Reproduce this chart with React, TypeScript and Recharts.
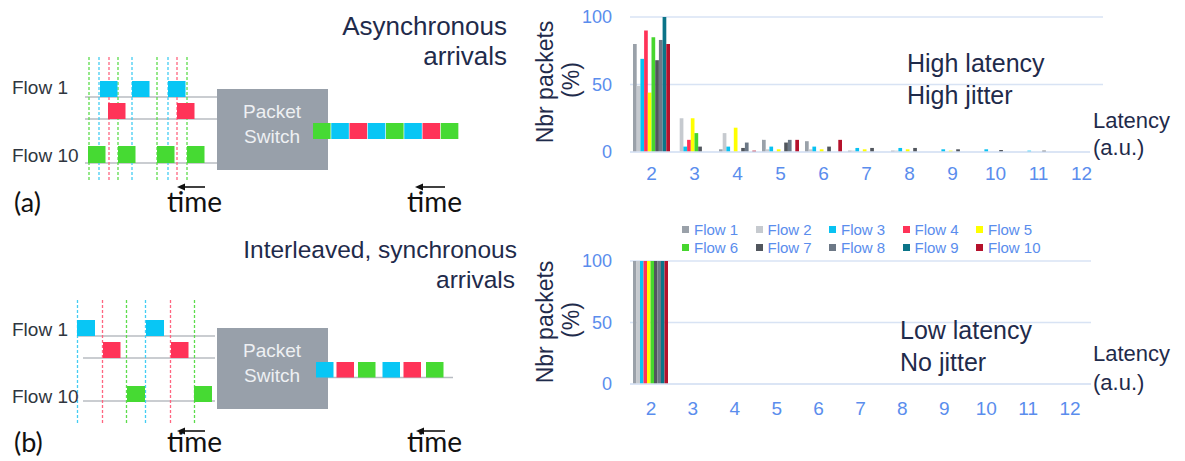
import React from 'react';
import { BarChart, Bar, XAxis, YAxis, CartesianGrid, Legend } from 'recharts';

// latency bins (a.u.) on the x axis
const LATENCY = ['2', '3', '4', '5', '6', '7', '8', '9', '10', '11', '12'];
const Y_TICKS = [0, 50, 100];

const FLOWS = ['Flow 1', 'Flow 2', 'Flow 3', 'Flow 4', 'Flow 5', 'Flow 6', 'Flow 7', 'Flow 8', 'Flow 9', 'Flow 10'];
const COLORS = ['#9aa1a9', '#c6cacf', '#08c2f2', '#ff3358', '#ffff00', '#46d62e', '#51565d', '#6c7886', '#0b7488', '#b5112b'];

// (a) asynchronous arrivals, % of packets per latency bin
const ASYNC_F1 = [80, 0, 2, 9, 8, 1, 1, 0, 0, 0, 0];
const ASYNC_F2 = [49, 25, 14, 2, 2, 1, 1, 0, 0, 0, 0];
const ASYNC_F3 = [69, 4, 4, 4, 4, 3, 3, 2, 2, 1, 0];
const ASYNC_F4 = [90, 9, 0, 0, 0, 0, 0, 0, 0, 0, 0];
const ASYNC_F5 = [44, 25, 18, 2, 2, 2, 2, 1, 0, 0, 0];
const ASYNC_F6 = [85, 14, 0, 0, 0, 0, 0, 0, 0, 0, 0];
const ASYNC_F7 = [68, 4, 3, 7, 4, 3, 3, 2, 1.5, 1, 0];
const ASYNC_F8 = [83, 0, 7, 9, 0, 0, 0, 0, 0, 0, 0];
const ASYNC_F9 = [100, 0, 0, 0, 0, 0, 0, 0, 0, 0, 0];
const ASYNC_F10 = [80, 0, 1, 9, 9, 0, 0, 0, 0, 0, 0];

// (b) interleaved synchronous arrivals: every flow lands in the first bin
const SYNC_ALL = [100, 0, 0, 0, 0, 0, 0, 0, 0, 0, 0];

const ASYNC = [ASYNC_F1, ASYNC_F2, ASYNC_F3, ASYNC_F4, ASYNC_F5, ASYNC_F6, ASYNC_F7, ASYNC_F8, ASYNC_F9, ASYNC_F10];
const SYNC = FLOWS.map(() => SYNC_ALL);

const toRows = (series: number[][]) =>
  LATENCY.map((lat, i) => {
    const row: Record<string, any> = { latency: lat };
    series.forEach((s, f) => { row[`f${f + 1}`] = s[i]; });
    return row;
  });

const asyncData = toRows(ASYNC);
const syncData = toRows(SYNC);

const FONT = '"Liberation Sans", Arial, sans-serif';
const TICK_BLUE = '#5a8ded';
const GRID = '#d8e3f4';
const NAVY = '#1f2b4b';

const FlowLegend = (props: any) => {
  // keep Flow 1..10 order (the default sorter puts "Flow 10" second)
  const items = [...(props.payload || [])].sort((a: any, b: any) => FLOWS.indexOf(a.value) - FLOWS.indexOf(b.value));
  return (
    <div style={{ display: 'flex', flexWrap: 'wrap', width: 370, fontFamily: FONT }}>
      {items.map((it: any) => (
        <div key={it.value} style={{ width: 73.5, height: 18, display: 'flex', alignItems: 'center', color: TICK_BLUE, fontSize: 15 }}>
          <span style={{ width: 7, height: 7, background: it.color, marginRight: 5, display: 'inline-block' }} />
          {it.value}
        </div>
      ))}
    </div>
  );
};

interface ChartProps {
  data: any[];
  height: number;
  top: number;
  bottom: number;
  right: number;
  barSize: number;
  tickMargin: number;
  legend?: boolean;
}

const LatencyChart: React.FC<ChartProps> = ({ data, height, top, bottom, right, barSize, tickMargin, legend }) => (
  <BarChart
    width={1185}
    height={height}
    data={data}
    margin={{ top, right, left: 580, bottom }}
    barGap={0}
    barSize={barSize}
  >
    <CartesianGrid horizontal vertical={false} stroke={GRID} strokeWidth={1.5} />
    <XAxis
      dataKey="latency"
      height={30}
      axisLine={{ stroke: GRID, strokeWidth: 1.5 }}
      tickLine={false}
      tickSize={0}
      tickMargin={tickMargin}
      tick={{ fill: TICK_BLUE, fontSize: 19, fontFamily: FONT }}
    />
    <YAxis
      width={50}
      domain={[0, 100]}
      ticks={Y_TICKS}
      axisLine={false}
      tickLine={false}
      tickSize={0}
      tickMargin={18}
      tick={{ fill: TICK_BLUE, fontSize: 18, fontFamily: FONT }}
    />
    {legend && (
      <Legend
        layout="horizontal"
        verticalAlign="middle"
        align="center"
        wrapperStyle={{ left: 682, top: 20, width: 370, height: 36 }}
        content={FlowLegend}
      />
    )}
    {FLOWS.map((name, i) => (
      <Bar key={name} dataKey={`f${i + 1}`} name={name} fill={COLORS[i]} isAnimationActive={false} />
    ))}
  </BarChart>
);

const CYAN = '#08c6f5';
const RED = '#ff3358';
const GREEN = '#46da33';
const DASH_CYAN = '#44cdf3';
const DASH_RED = '#ff6680';
const DASH_GREEN = '#5cdc4c';
const ROW_LINE = '#b8bcc2';
const BOX = '#98a0aa';

const Arrow = ({ x1, x2, y }: { x1: number; x2: number; y: number }) => (
  <g>
    <line x1={x1} x2={x2 + 4} y1={y} y2={y} stroke="#111" strokeWidth={1.6} />
    <polygon points={`${x2},${y} ${x2 + 8},${y - 3.5} ${x2 + 8},${y + 3.5}`} fill="#111" />
  </g>
);

const Pkt = ({ x, y, w, h, c }: { x: number; y: number; w: number; h: number; c: string }) => (
  <rect x={x} y={y} width={w} height={h} fill={c} />
);

const Schematics = () => (
  <svg width={1185} height={461} style={{ position: 'absolute', left: 0, top: 0, pointerEvents: 'none' }}>
    {/* ---- (a) asynchronous ---- */}
    {[97, 119, 163].map(y => <line key={y} x1={85} x2={217} y1={y} y2={y} stroke={ROW_LINE} strokeWidth={1.5} />)}
    {[89, 118, 157, 187].map(x => <line key={'ga' + x} x1={x} x2={x} y1={57} y2={180} stroke={DASH_GREEN} strokeWidth={1.3} strokeDasharray="3 2" />)}
    {[99, 132, 168].map(x => <line key={'ca' + x} x1={x} x2={x} y1={57} y2={180} stroke={DASH_CYAN} strokeWidth={1.3} strokeDasharray="3 2" />)}
    {[109, 177].map(x => <line key={'ra' + x} x1={x} x2={x} y1={57} y2={180} stroke={DASH_RED} strokeWidth={1.3} strokeDasharray="3 2" />)}
    {[100, 132, 168].map(x => <Pkt key={'pca' + x} x={x} y={81} w={17.5} h={16} c={CYAN} />)}
    {[108, 177].map(x => <Pkt key={'pra' + x} x={x} y={103} w={17.5} h={16} c={RED} />)}
    {[88, 118, 157, 187].map(x => <Pkt key={'pga' + x} x={x} y={146} w={17.5} h={17} c={GREEN} />)}
    <rect x={217} y={89} width={111} height={81} fill={BOX} />
    <text x={272} y={118} textAnchor="middle" fill="#eef0f3" fontSize={19} fontFamily={FONT}>Packet</text>
    <text x={272} y={143} textAnchor="middle" fill="#eef0f3" fontSize={19} fontFamily={FONT}>Switch</text>
    {[GREEN, CYAN, RED, CYAN, GREEN, CYAN, RED, GREEN].map((c, i) => (
      <Pkt key={'oa' + i} x={313 + i * 18.25} y={123} w={17.6} h={16} c={c} />
    ))}
    <text x={12} y={94} fill="#2f3640" fontSize={19} fontFamily={FONT}>Flow 1</text>
    <text x={12} y={162} fill="#2f3640" fontSize={19} fontFamily={FONT}>Flow 10</text>
    <text x={14} y={212} fill="#111" fontSize={27} fontFamily="Lato, sans-serif">(a)</text>
    <text x={167} y={212} fill="#111" fontSize={28} fontFamily="Lato, sans-serif">time</text>
    <text x={407} y={212} fill="#111" fontSize={28} fontFamily="Lato, sans-serif">time</text>
    <Arrow x1={205} x2={177} y={187} />
    <Arrow x1={445} x2={415} y={187} />

    {/* ---- (b) interleaved synchronous ---- */}
    <line x1={77} x2={215} y1={336} y2={336} stroke={ROW_LINE} strokeWidth={1.5} />
    {[358, 401].map(y => <line key={y} x1={83} x2={215} y1={y} y2={y} stroke={ROW_LINE} strokeWidth={1.5} />)}
    {[77.5, 145.5].map(x => <line key={'cb' + x} x1={x} x2={x} y1={300} y2={425} stroke={DASH_CYAN} strokeWidth={1.3} strokeDasharray="3 2" />)}
    {[102.5, 170.5].map(x => <line key={'rb' + x} x1={x} x2={x} y1={300} y2={425} stroke={DASH_RED} strokeWidth={1.3} strokeDasharray="3 2" />)}
    {[126.5, 194.5].map(x => <line key={'gb' + x} x1={x} x2={x} y1={300} y2={425} stroke={DASH_GREEN} strokeWidth={1.3} strokeDasharray="3 2" />)}
    {[77, 146].map(x => <Pkt key={'pcb' + x} x={x} y={320} w={18} h={16} c={CYAN} />)}
    {[103, 171].map(x => <Pkt key={'prb' + x} x={x} y={342} w={17.5} h={16} c={RED} />)}
    {[127, 194].map(x => <Pkt key={'pgb' + x} x={x} y={386} w={18} h={16} c={GREEN} />)}
    <rect x={217} y={328} width={111} height={81} fill={BOX} />
    <text x={272} y={357} textAnchor="middle" fill="#eef0f3" fontSize={19} fontFamily={FONT}>Packet</text>
    <text x={272} y={382} textAnchor="middle" fill="#eef0f3" fontSize={19} fontFamily={FONT}>Switch</text>
    <line x1={328} x2={453} y1={377.5} y2={377.5} stroke={ROW_LINE} strokeWidth={1.5} />
    {[316, 336.5, 358, 382.5, 403.5, 426].map((x, i) => (
      <Pkt key={'ob' + i} x={x} y={362} w={17.5} h={15.5} c={[CYAN, RED, GREEN][i % 3]} />
    ))}
    <text x={12} y={336} fill="#2f3640" fontSize={19} fontFamily={FONT}>Flow 1</text>
    <text x={12} y={403} fill="#2f3640" fontSize={19} fontFamily={FONT}>Flow 10</text>
    <text x={14} y={452} fill="#111" fontSize={27} fontFamily="Lato, sans-serif">(b)</text>
    <text x={167} y={452} fill="#111" fontSize={28} fontFamily="Lato, sans-serif">time</text>
    <text x={407} y={452} fill="#111" fontSize={28} fontFamily="Lato, sans-serif">time</text>
    <Arrow x1={205} x2={177} y={431} />
    <Arrow x1={445} x2={416} y={431} />

    {/* ---- chart annotations ---- */}
    <rect x={1090} y={146} width={16} height={10} fill="#fff" />
    <g fill={NAVY} fontFamily={FONT}>
      <text x={507} y={35} textAnchor="end" fontSize={26}>Asynchronous</text>
      <text x={507} y={65} textAnchor="end" fontSize={26}>arrivals</text>
      <text x={517} y={258} textAnchor="end" fontSize={24.5}>Interleaved, synchronous</text>
      <text x={515} y={288} textAnchor="end" fontSize={24.5}>arrivals</text>

      <text x={907} y={72} fontSize={25}>High latency</text>
      <text x={907} y={104} fontSize={25}>High jitter</text>
      <text x={900} y={339} fontSize={25}>Low latency</text>
      <text x={900} y={371} fontSize={25}>No jitter</text>

      <text x={1093} y={128} fontSize={22}>Latency</text>
      <text x={1093} y={155} fontSize={22}>(a.u.)</text>
      <text x={1093} y={361} fontSize={22}>Latency</text>
      <text x={1093} y={390} fontSize={22}>(a.u.)</text>

      <text x={553} y={82} fontSize={23} textAnchor="middle" transform="rotate(-90 553 82)">Nbr packets</text>
      <text x={579} y={80} fontSize={23} textAnchor="middle" transform="rotate(-90 579 80)">(%)</text>
      <text x={553} y={322} fontSize={23} textAnchor="middle" transform="rotate(-90 553 322)">Nbr packets</text>
      <text x={579} y={320} fontSize={23} textAnchor="middle" transform="rotate(-90 579 320)">(%)</text>
    </g>
  </svg>
);

export default function App() {
  return (
    <div style={{ position: 'absolute', left: 0, top: 0, width: 1185, height: 461, background: '#fff', overflow: 'hidden' }}>
      <div style={{ position: 'absolute', left: 0, top: 0 }}>
        <LatencyChart data={asyncData} height={200} top={17} bottom={18} right={82} barSize={3.7} tickMargin={15} />
      </div>
      <div style={{ position: 'absolute', left: 0, top: 200 }}>
        <LatencyChart data={syncData} height={240} top={61} bottom={26} right={94} barSize={3.5} tickMargin={18} legend />
      </div>
      <Schematics />
    </div>
  );
}
